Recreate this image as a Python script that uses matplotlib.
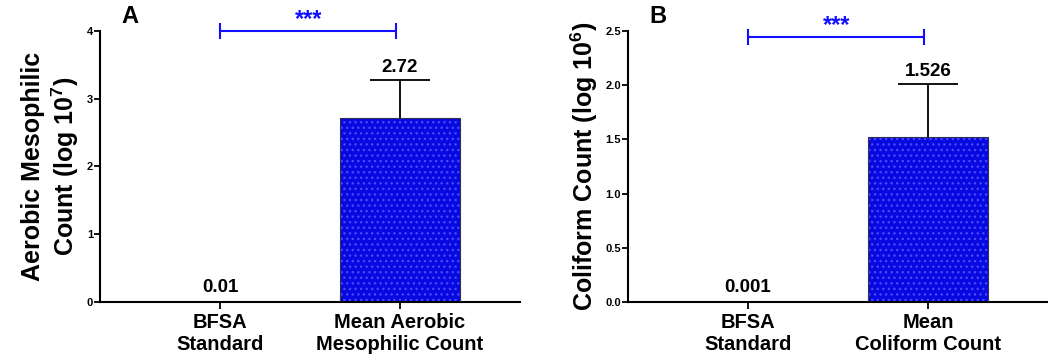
import matplotlib.pyplot as plt

plt.rcParams['font.family'] = ['Liberation Sans', 'DejaVu Sans']
plt.rcParams['font.weight'] = 'bold'
plt.rcParams['axes.labelweight'] = 'bold'
plt.rcParams['mathtext.fontset'] = 'custom'
plt.rcParams['mathtext.bf'] = 'Liberation Sans:bold'
plt.rcParams['mathtext.rm'] = 'Liberation Sans:bold'
plt.rcParams['mathtext.default'] = 'bf'
plt.rcParams['hatch.linewidth'] = 1.0

# panel A: aerobic mesophilic count
labels_a = ["BFSA\nStandard", "Mean Aerobic\nMesophilic Count"]
values_a = [0.01, 2.72]
upper_a = [3.28]          # top of the error bar on the mean bar
value_text_a = ["0.01", "2.72"]

# panel B: coliform count
labels_b = ["BFSA\nStandard", "Mean\nColiform Count"]
values_b = [0.001, 1.526]
upper_b = [2.01]
value_text_b = ["0.001", "1.526"]

fig = plt.figure(figsize=(10.48, 3.59), dpi=100)
ax_a = fig.add_axes([0.0954, 0.1588, 0.4008, 0.755])
ax_b = fig.add_axes([0.5992, 0.1588, 0.4008, 0.755])


def draw_panel(ax, labels, values, upper, texts, ymax, yticks, tickfmt, sig_y, letter, ylabel):
    x = [0, 1]
    # the standard bar is basically zero height, only the mean bar shows
    ax.bar(x[1], values[1], width=0.667, color='#0808e0', edgecolor='#4848ff',
           hatch='...', linewidth=0, zorder=2)
    ax.bar(x[1], values[1], width=0.667, fill=False, edgecolor='#303050', linewidth=0.8, zorder=3)

    # error bar: upward whisker only
    ax.vlines(x[1], values[1], upper[0], color='black', lw=1.3, zorder=1)
    ax.hlines(upper[0], x[1] - 0.165, x[1] + 0.165, color='black', lw=1.3)

    ax.text(x[0], values[0] + ymax * 0.02, texts[0], ha='center', va='bottom', fontsize=13.5)
    ax.text(x[1], upper[0] + ymax * 0.015, texts[1], ha='center', va='bottom', fontsize=13.5)

    # significance bracket
    ax.plot([x[0], 0.98], [sig_y, sig_y], color='#1010ff', lw=1.5, clip_on=False)
    for xx in (x[0], 0.98):
        ax.plot([xx, xx], [sig_y - ymax * 0.026, sig_y + ymax * 0.026], color='#1010ff', lw=1.5, clip_on=False)
    ax.text(0.49, sig_y + ymax * 0.0, '***', ha='center', va='bottom', color='#1010ff', fontsize=17)

    ax.set_xlim(-0.667, 1.667)
    ax.set_ylim(0, ymax)
    ax.set_yticks(yticks)
    ax.set_yticklabels([tickfmt.format(t) for t in yticks], fontsize=8)
    ax.set_xticks(x)
    ax.set_xticklabels(labels, fontsize=14.5)
    ax.tick_params(axis='y', length=4, width=1.3, pad=1)
    ax.tick_params(axis='x', length=5, width=1.3, pad=3)
    ax.spines['top'].set_visible(False)
    ax.spines['right'].set_visible(False)
    ax.spines['left'].set_linewidth(1.5)
    ax.spines['bottom'].set_linewidth(1.5)
    ax.set_ylabel(ylabel, fontsize=18, fontweight='bold', labelpad=4)
    ax.text(-0.5, ymax * 1.01, letter, fontsize=17, ha='center', va='bottom')


draw_panel(ax_a, labels_a, values_a, upper_a, value_text_a, 4, [0, 1, 2, 3, 4], '{:.0f}',
           4.0, 'A', 'Aerobic Mesophilic\nCount (log 10$^{7}$)')
draw_panel(ax_b, labels_b, values_b, upper_b, value_text_b, 2.5, [0, 0.5, 1.0, 1.5, 2.0, 2.5], '{:.1f}',
           2.44, 'B', 'Coliform Count (log 10$^{6}$)')

fig.savefig('out.png', dpi=100)
